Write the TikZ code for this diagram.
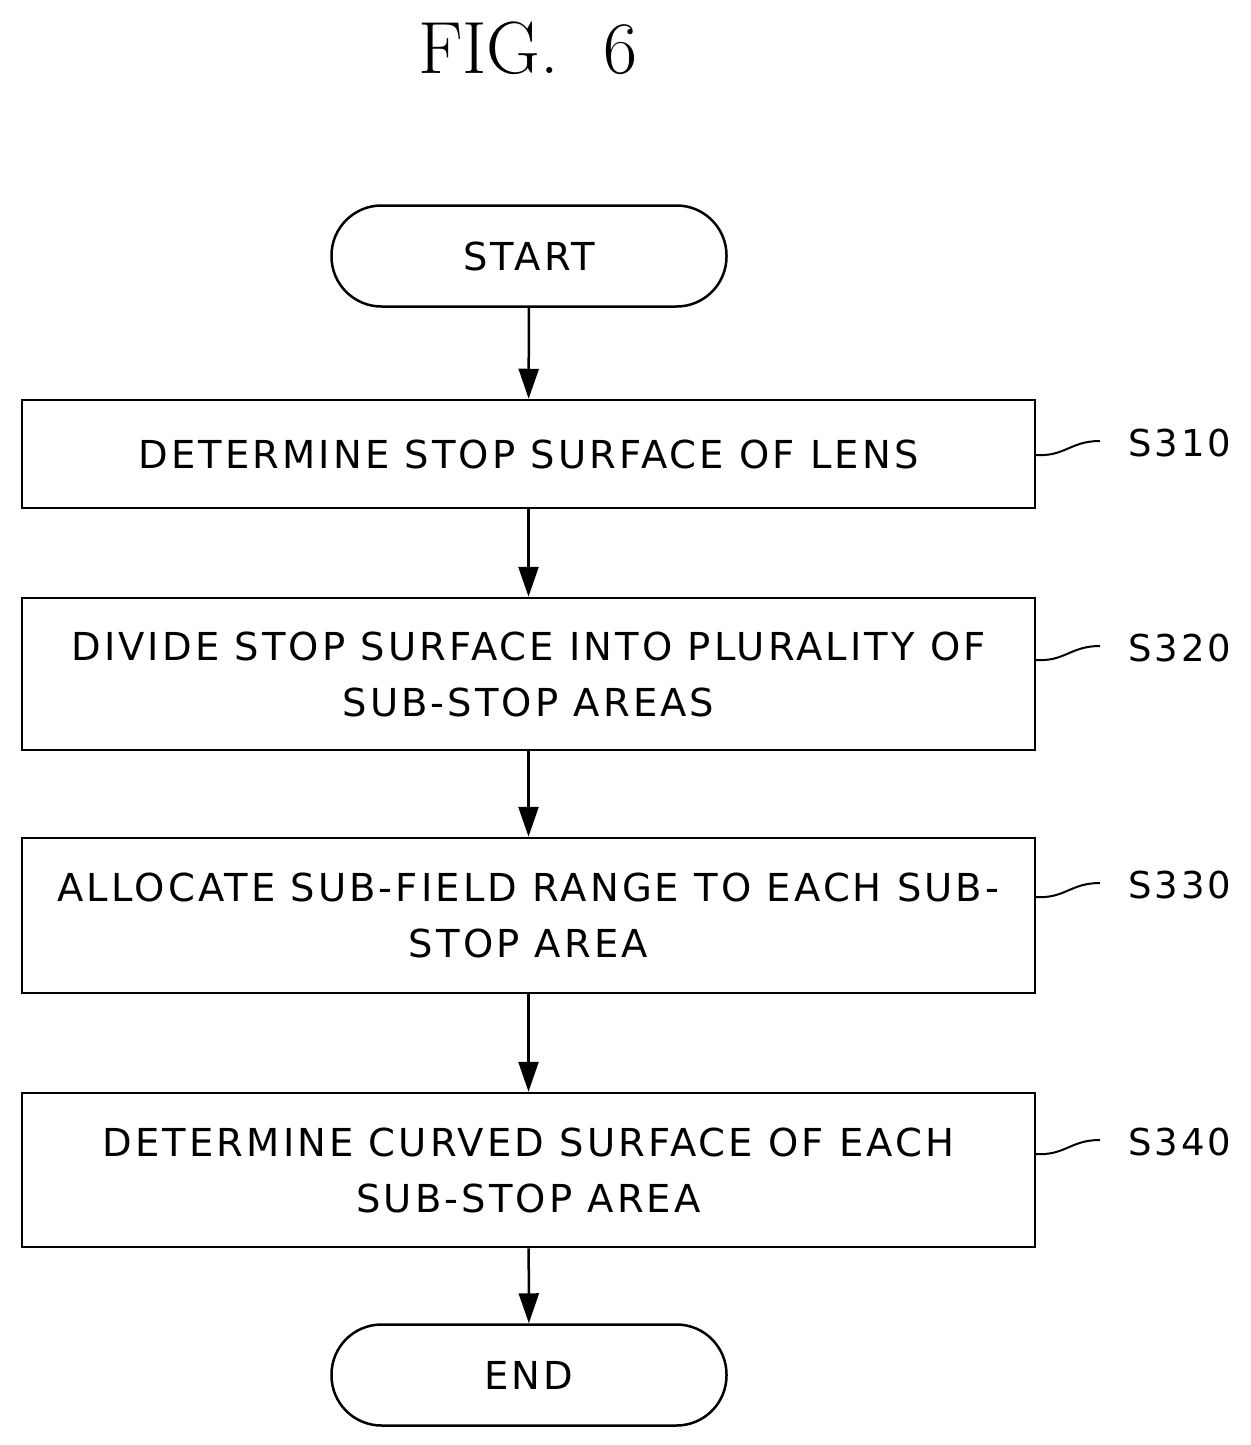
\documentclass[tikz,border=0pt]{standalone}
\usepackage{fontspec}
\setmainfont{DejaVu Sans}[LetterSpace=8]
\newfontfamily\titlefont{Latin Modern Roman}
\usetikzlibrary{arrows.meta}
\begin{document}
\begin{tikzpicture}[x=1pt,y=-1pt,
  txt/.style={font=\fontsize{38.5}{56}\selectfont, align=center},
  stepbox/.style={draw, line width=2.5pt, minimum width=1013pt, txt},
  term/.style={draw, line width=2.5pt, rounded corners=50pt, minimum width=395pt, minimum height=101pt, txt},
  flow/.style={line width=2.5pt, -{Triangle[length=30pt,width=20pt]}},
  lead/.style={line width=2pt},
  lab/.style={font=\fontsize{37}{40}\selectfont, anchor=west}]
\useasboundingbox (0,0) rectangle (1250,1445);
\node[font=\titlefont\fontsize{74}{76}\selectfont] (title) at (528,48) {FIG.\ \ 6};
\node[term] (start) at (529,256) {START};
\node[stepbox, minimum height=108pt] (s1) at (528.5,454) {DETERMINE STOP SURFACE OF LENS};
\node[stepbox, minimum height=152pt] (s2) at (528.5,674) {DIVIDE STOP SURFACE INTO PLURALITY OF\\SUB-STOP AREAS};
\node[stepbox, minimum height=155pt] (s3) at (528.5,915.5) {ALLOCATE SUB-FIELD RANGE TO EACH SUB-\\STOP AREA};
\node[stepbox, minimum height=154pt] (s4) at (528.5,1170) {DETERMINE CURVED SURFACE OF EACH\\SUB-STOP AREA};
\node[term] (end) at (529,1375) {END};
\draw[flow] (start) -- (s1);
\draw[flow] (s1) -- (s2);
\draw[flow] (s2) -- (s3);
\draw[flow] (s3) -- (s4);
\draw[flow] (s4) -- (end);
\foreach \n/\y/\t in {s1/443/S310, s2/648/S320, s3/885/S330, s4/1142/S340}{
  \node[lab] (l\n) at (1125,\y) {\t};
  \coordinate (c\n) at (1035,\y+12);
  \draw[lead] (c\n) .. controls (1065,\y+14) and (1070,\y-2) .. (1100,\y-2);
}
\end{tikzpicture}
\end{document}
